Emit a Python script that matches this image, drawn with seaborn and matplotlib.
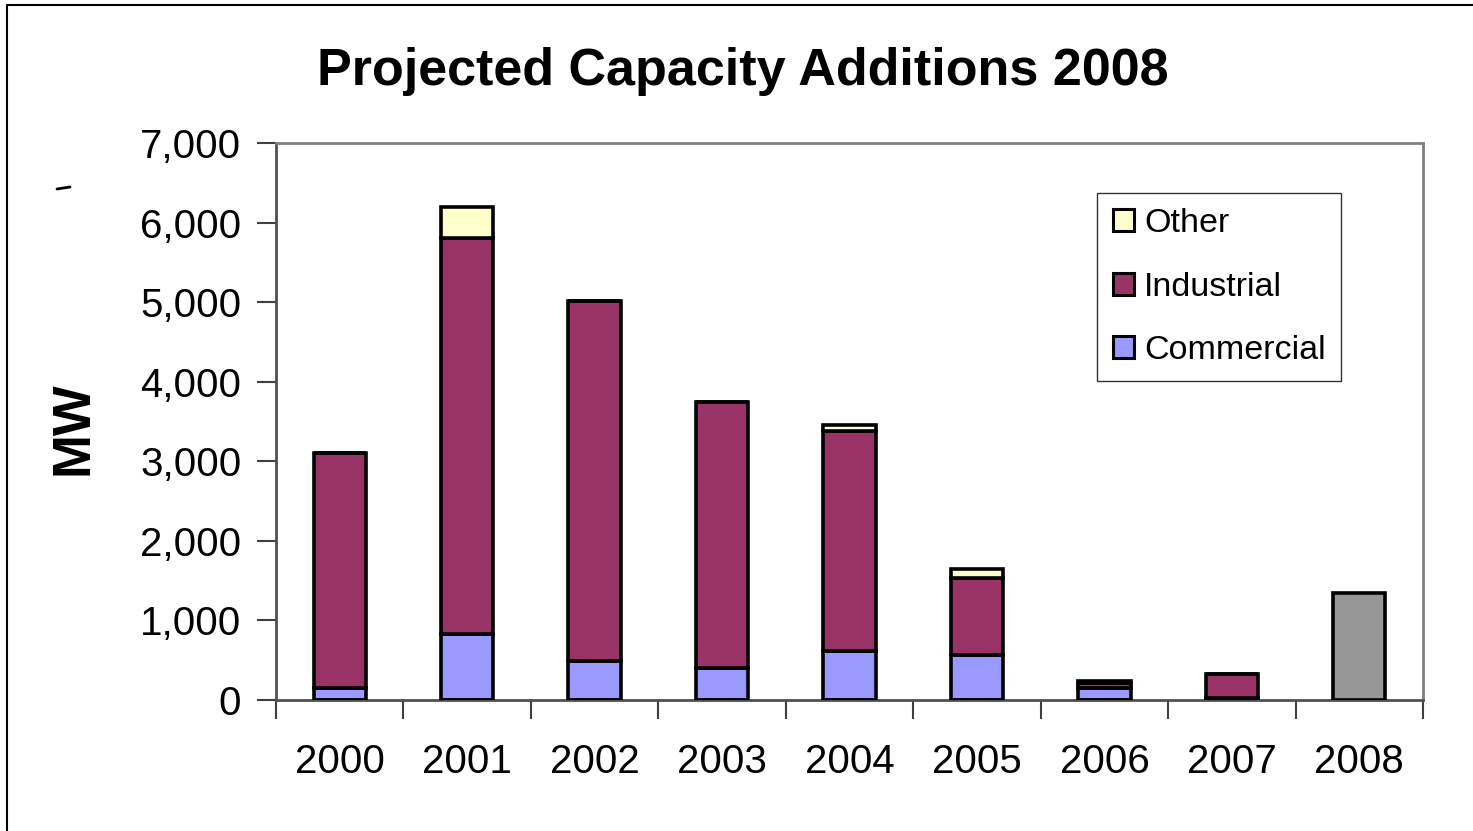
import numpy as np
import pandas as pd
import matplotlib
matplotlib.use('Agg')
import matplotlib.pyplot as plt
from matplotlib.patches import Patch
from matplotlib.lines import Line2D
from matplotlib.ticker import FuncFormatter
import seaborn as sns

# data (MW)
years = ['2000', '2001', '2002', '2003', '2004', '2005', '2006', '2007', '2008']
commercial = [150, 830, 490, 400, 615, 565, 150, 20, 0]
industrial = [2950, 4970, 4530, 3350, 2765, 970, 60, 310, 0]
other = [0, 400, 0, 0, 75, 110, 30, 0, 0]
projected = [0, 0, 0, 0, 0, 0, 0, 0, 1350]

df = pd.DataFrame({'year': years, 'Commercial': commercial,
                   'Industrial': industrial, 'Other': other,
                   'Projected': projected})
df['bottom_other'] = df['Commercial'] + df['Industrial']

sns.set_style('white')
plt.rcParams['font.family'] = ['Liberation Sans', 'DejaVu Sans']
plt.rcParams['text.color'] = 'black'
plt.rcParams['xtick.color'] = 'black'
plt.rcParams['ytick.color'] = 'black'
plt.rcParams['axes.labelcolor'] = 'black'

fig = plt.figure(figsize=(14.73, 8.31), dpi=100)
ax = fig.add_axes([276/1473, 1-700/831, 1147/1473, 557/831])

colors = {'Commercial': '#9999FF', 'Industrial': '#993366',
          'Other': '#FFFFCC', 'Projected': '#969696'}
w = 0.41
kw = dict(edgecolor='black', linewidth=2.6, width=w, order=years, ax=ax,
          saturation=1, zorder=3)

sns.barplot(data=df, x='year', y='Commercial', color=colors['Commercial'], **kw)
sns.barplot(data=df, x='year', y='Industrial', bottom=df['Commercial'],
            color=colors['Industrial'], **kw)
sns.barplot(data=df, x='year', y='Other', bottom=df['bottom_other'],
            color=colors['Other'], **kw)
sns.barplot(data=df, x='year', y='Projected', color=colors['Projected'], **kw)

ax.set_xlim(-0.5, 8.5)
ax.set_ylim(0, 7000)
ax.set_yticks(np.arange(0, 7001, 1000))
ax.yaxis.set_major_formatter(FuncFormatter(lambda v, p: f'{int(v):,}'))
ax.set_xticks(np.arange(-0.5, 9, 1), minor=True)
ax.tick_params(axis='x', which='major', length=0, pad=31, labelsize=29)
ax.tick_params(axis='x', which='minor', length=14, width=1.5, color='#404040',
               direction='out', bottom=True)
ax.tick_params(axis='y', length=14, width=1.5, color='#404040', direction='out',
               left=True, pad=11, labelsize=29)
ax.set_xlabel('')
ax.set_ylabel('MW', fontsize=38, fontweight='bold')
ax.yaxis.set_label_coords(-0.155, 0.4884)
for s in ax.spines.values():
    s.set_color('#808080')
    s.set_linewidth(2)
ax.spines['left'].set_color('#505050')
ax.spines['bottom'].set_color('#505050')

handles = [Patch(facecolor=colors[k], edgecolor='black', linewidth=2.2, label=k)
           for k in ['Other', 'Industrial', 'Commercial']]
leg = ax.legend(handles=handles, loc='upper right', bbox_to_anchor=(0.9285, 0.91),
                fontsize=24.5, frameon=True, fancybox=False, edgecolor='black',
                handlelength=0.62, handleheight=0.62, handletextpad=0.3,
                labelspacing=0.95, borderpad=0.45, borderaxespad=0)
leg.get_frame().set_linewidth(1)

fig.text(743/1473, 1-71/831, 'Projected Capacity Additions 2008',
         ha='center', va='center', fontsize=37.5, fontweight='bold')

# outer chart border (left and top) and small stray mark
fig.add_artist(Line2D([7/1473, 7/1473], [0, 1-5/831], color='black', lw=1.5))
fig.add_artist(Line2D([7/1473, 1], [1-5/831, 1-5/831], color='black', lw=1.5))
fig.add_artist(Line2D([57/1473, 70/1473], [1-189/831, 1-187/831], color='black', lw=2))

fig.savefig('out.png', dpi=100)
